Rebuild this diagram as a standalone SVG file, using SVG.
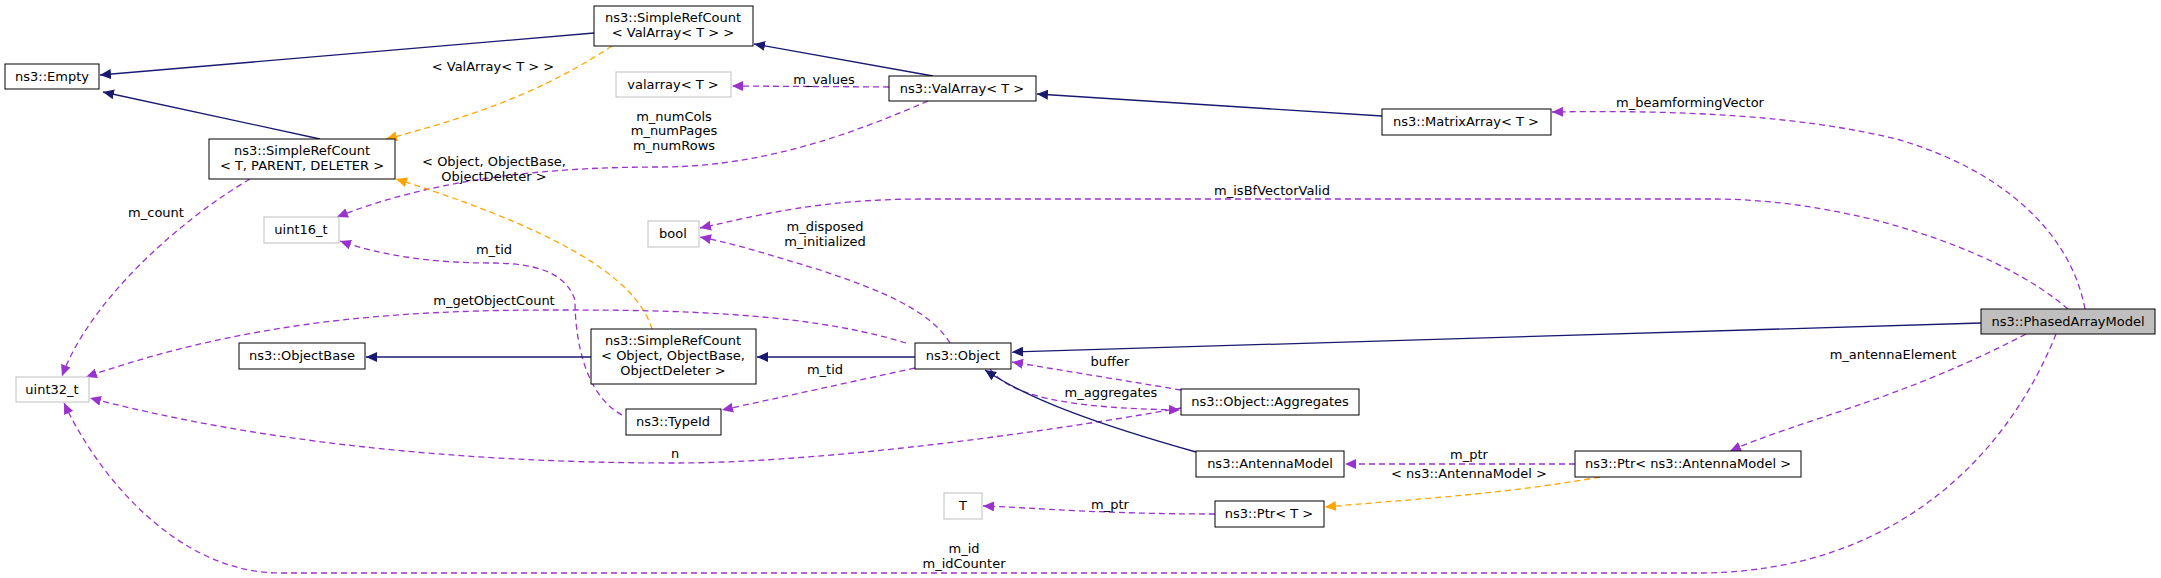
<svg xmlns="http://www.w3.org/2000/svg" width="2161" height="578" viewBox="0 0 2161 578">
<style>
text{font-family:"DejaVu Sans","Liberation Sans",sans-serif;font-size:13px;fill:#000;text-anchor:middle}
.n rect{fill:#fff;stroke:#000;stroke-width:1}
.g rect{fill:#fff;stroke:#bfbfbf;stroke-width:1}
.h rect{fill:#bfbfbf;stroke:#000;stroke-width:1}
.inh{fill:none;stroke:#191970;stroke-width:1.3;marker-end:url(#an)}
.use{fill:none;stroke:#9a32cd;stroke-width:1.3;stroke-dasharray:6,4;marker-end:url(#ap)}
.tpl{fill:none;stroke:#ffa500;stroke-width:1.3;stroke-dasharray:6,4;marker-end:url(#ao)}
</style>
<defs>
<marker id="an" markerWidth="12" markerHeight="10" refX="11" refY="5" orient="auto" markerUnits="userSpaceOnUse"><path d="M0,0 L11,5 L0,10 z" fill="#191970"/></marker>
<marker id="ap" markerWidth="12" markerHeight="10" refX="11" refY="5" orient="auto" markerUnits="userSpaceOnUse"><path d="M0,0 L11,5 L0,10 z" fill="#9a32cd"/></marker>
<marker id="ao" markerWidth="12" markerHeight="10" refX="11" refY="5" orient="auto" markerUnits="userSpaceOnUse"><path d="M0,0 L11,5 L0,10 z" fill="#ffa500"/></marker>
</defs>
<rect width="2161" height="578" fill="#fff"/>
<g id="connectors">
<path class="inh" d="M594,33 L100,75"/>
<path class="inh" d="M320,139 L103,92"/>
<path class="inh" d="M933,76 L754,44"/>
<path class="inh" d="M1382,116 L1037,94"/>
<path class="tpl" d="M612,46 C560,80 500,110 386,139"/>
<path class="use" d="M889,87 L732,86"/>
<path class="use" d="M928,101 C850,135 760,167 660,167 C540,167 430,180 337,217"/>
<path class="tpl" d="M652,329 C640,290 590,240 396,179"/>
<path class="use" d="M250,179 C180,220 90,300 62,376"/>
<path class="use" d="M622,415 C585,395 575,340 575,300 C565,270 530,263 490,263 C430,263 380,255 340,241"/>
<path class="use" d="M906,343 C800,310 650,310 555,310 C400,310 250,320 86,377"/>
<path class="use" d="M1181,408 C1000,440 800,463 675,463 C450,463 250,440 90,398"/>
<path class="use" d="M950,343 C930,310 880,290 820,270 C770,255 740,245 700,237"/>
<path class="use" d="M2068,309 C2000,250 1850,199 1712,199 L924,199 C820,199 760,215 700,228"/>
<path class="use" d="M2085,309 C2070,230 2000,170 1900,140 C1800,115 1680,110 1552,112"/>
<path class="inh" d="M1981,323 L1012,352"/>
<path class="inh" d="M591,357 L366,357"/>
<path class="inh" d="M915,357 L757,357"/>
<path class="use" d="M915,368 L722,410"/>
<path class="use" d="M1181,390 L1012,362"/>
<path class="use" d="M990,369 C1010,395 1060,408 1180,410"/>
<path class="inh" d="M1196,452 C1100,425 1030,400 985,370"/>
<path class="use" d="M1575,464 L1345,464"/>
<path class="tpl" d="M1600,477 C1500,495 1400,500 1325,507"/>
<path class="use" d="M1215,514 C1100,514 1040,508 983,506"/>
<path class="use" d="M2026,334 C1900,400 1800,420 1730,451"/>
<path class="use" d="M2056,334 C2010,450 1900,572 1700,573 L280,573 C180,573 100,480 64,403"/>
</g>
<g id="labels">
<text x="493" y="71">&lt; ValArray&lt; T &gt; &gt;</text>
<text x="824" y="84">m_values</text>
<text x="674" y="121">m_numCols</text>
<text x="674" y="135">m_numPages</text>
<text x="674" y="150">m_numRows</text>
<text x="494" y="166">&lt; Object, ObjectBase,</text>
<text x="494" y="181">ObjectDeleter &gt;</text>
<text x="156" y="217">m_count</text>
<text x="494" y="254">m_tid</text>
<text x="825" y="231">m_disposed</text>
<text x="825" y="246">m_initialized</text>
<text x="1272" y="195">m_isBfVectorValid</text>
<text x="1690" y="107">m_beamformingVector</text>
<text x="494" y="305">m_getObjectCount</text>
<text x="825" y="374">m_tid</text>
<text x="675" y="458">n</text>
<text x="1110" y="366">buffer</text>
<text x="1111" y="397">m_aggregates</text>
<text x="1893" y="359">m_antennaElement</text>
<text x="1469" y="459">m_ptr</text>
<text x="1469" y="478">&lt; ns3::AntennaModel &gt;</text>
<text x="1110" y="509">m_ptr</text>
<text x="964" y="553">m_id</text>
<text x="964" y="568">m_idCounter</text>
</g>
<g id="n-empty" class="n"><rect x="5" y="64" width="94" height="25"/><text x="52" y="81">ns3::Empty</text></g>
<g id="n-srcval" class="n"><rect x="594" y="6" width="159" height="40"/><text x="673" y="22">ns3::SimpleRefCount</text><text x="673" y="37">&lt; ValArray&lt; T &gt; &gt;</text></g>
<g id="n-srctpd" class="n"><rect x="209" y="139" width="186" height="40"/><text x="302" y="155">ns3::SimpleRefCount</text><text x="302" y="170">&lt; T, PARENT, DELETER &gt;</text></g>
<g id="n-valarray" class="g"><rect x="616" y="72" width="115" height="25"/><text x="673" y="89">valarray&lt; T &gt;</text></g>
<g id="n-ValArray" class="n"><rect x="889" y="76" width="147" height="25"/><text x="962" y="93">ns3::ValArray&lt; T &gt;</text></g>
<g id="n-matrix" class="n"><rect x="1382" y="109" width="169" height="26"/><text x="1466" y="126">ns3::MatrixArray&lt; T &gt;</text></g>
<g id="n-uint16" class="g"><rect x="264" y="217" width="75" height="26"/><text x="301" y="234">uint16_t</text></g>
<g id="n-bool" class="g"><rect x="648" y="221" width="51" height="26"/><text x="673" y="238">bool</text></g>
<g id="n-uint32" class="g"><rect x="16" y="377" width="73" height="25"/><text x="52" y="394">uint32_t</text></g>
<g id="n-objbase" class="n"><rect x="239" y="343" width="126" height="26"/><text x="302" y="360">ns3::ObjectBase</text></g>
<g id="n-srcobj" class="n"><rect x="591" y="329" width="165" height="55"/><text x="673" y="345">ns3::SimpleRefCount</text><text x="673" y="360">&lt; Object, ObjectBase,</text><text x="673" y="375">ObjectDeleter &gt;</text></g>
<g id="n-object" class="n"><rect x="915" y="343" width="96" height="26"/><text x="963" y="360">ns3::Object</text></g>
<g id="n-typeid" class="n"><rect x="626" y="409" width="95" height="26"/><text x="673" y="426">ns3::TypeId</text></g>
<g id="n-aggr" class="n"><rect x="1181" y="389" width="178" height="26"/><text x="1270" y="406">ns3::Object::Aggregates</text></g>
<g id="n-antenna" class="n"><rect x="1196" y="451" width="148" height="26"/><text x="1270" y="468">ns3::AntennaModel</text></g>
<g id="n-ptrant" class="n"><rect x="1575" y="451" width="226" height="26"/><text x="1688" y="468">ns3::Ptr&lt; ns3::AntennaModel &gt;</text></g>
<g id="n-ptrt" class="n"><rect x="1215" y="501" width="109" height="26"/><text x="1269" y="518">ns3::Ptr&lt; T &gt;</text></g>
<g id="n-t" class="g"><rect x="944" y="493" width="38" height="26"/><text x="963" y="510">T</text></g>
<g id="n-pam" class="h"><rect x="1981" y="309" width="174" height="25"/><text x="2068" y="326">ns3::PhasedArrayModel</text></g>
</svg>
